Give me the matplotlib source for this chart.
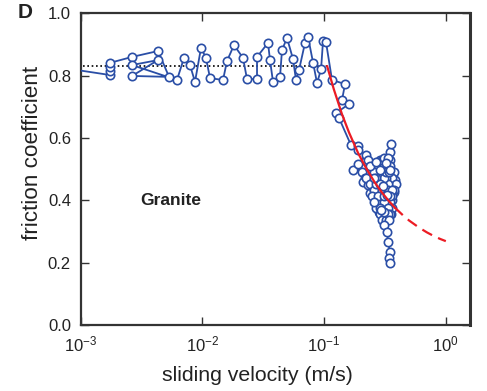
import matplotlib
matplotlib.use("Agg")
import matplotlib.pyplot as plt

plt.rcParams['font.family'] = ['Liberation Sans', 'DejaVu Sans']
plt.rcParams['mathtext.default'] = 'regular'

# measured sliding velocity (m/s) and friction coefficient, in recording order
velocity = [0.0005, 0.00174, 0.00174, 0.00174, 0.00174,
            0.00264, 0.00432, 0.00532, 0.00264, 0.00432, 0.00264,
            0.00618, 0.00706, 0.00791, 0.00869, 0.00974, 0.0107, 0.01155,
            0.01477, 0.01592, 0.01818, 0.02156, 0.02325, 0.0281, 0.0281,
            0.03459, 0.03593, 0.03802, 0.04342, 0.04508, 0.04955, 0.05553,
            0.05875, 0.0622, 0.06966, 0.0738, 0.08111, 0.0875, 0.0944,
            0.09795, 0.1036, 0.1161, 0.1486, 0.1403, 0.1603, 0.1253, 0.1326,
            0.1663, 0.1901, 0.1901, 0.2210, 0.1728, 0.2049, 0.1901, 0.2049,
            0.2166, 0.2095, 0.2295, 0.2384,
            0.2476, 0.2880, 0.2670, 0.3107, 0.2384, 0.2991, 0.3226, 0.2773,
            0.3350, 0.2570, 0.3226, 0.2880, 0.3480, 0.2670, 0.3350, 0.2991,
            0.3614, 0.2826, 0.3414, 0.3107, 0.3547, 0.3226, 0.2773, 0.3614,
            0.3825, 0.375,
            0.2295, 0.2773, 0.3480, 0.2476, 0.3107, 0.3753, 0.2210, 0.2880,
            0.3614, 0.2384, 0.3226, 0.3898, 0.2570, 0.3350, 0.3753, 0.2476,
            0.2991, 0.3614, 0.2773, 0.3226, 0.3480, 0.2670, 0.3107, 0.3614,
            0.2880, 0.3350, 0.2991, 0.3480, 0.3226, 0.2773, 0.3350, 0.2670,
            0.3107, 0.2570, 0.3226, 0.2384, 0.2991, 0.2670, 0.3480, 0.2880,
            0.3614, 0.3107, 0.2880, 0.3350, 0.3107, 0.3480, 0.2570,
            0.2880, 0.2570, 0.3414, 0.2670, 0.3107, 0.3480,
            0.3547, 0.3350, 0.3226, 0.3480, 0.3049, 0.3288, 0.2935, 0.3414,
            0.3107, 0.3288, 0.3350, 0.3480, 0.3414, 0.3480]
friction = [0.834, 0.802, 0.815, 0.828, 0.841,
            0.860, 0.879, 0.796, 0.799, 0.850, 0.834,
            0.786, 0.857, 0.834, 0.780, 0.889, 0.857, 0.792,
            0.786, 0.847, 0.898, 0.857, 0.789, 0.789, 0.860,
            0.905, 0.850, 0.780, 0.796, 0.882, 0.921, 0.853,
            0.786, 0.818, 0.905, 0.924, 0.841, 0.776, 0.821,
            0.911, 0.908, 0.786, 0.773, 0.722, 0.709, 0.680, 0.664,
            0.577, 0.574, 0.561, 0.545, 0.497, 0.504, 0.517, 0.491,
            0.471, 0.459, 0.449, 0.424,
            0.513, 0.529, 0.491, 0.504, 0.471, 0.478, 0.513, 0.449,
            0.471, 0.433, 0.440, 0.414, 0.433, 0.401, 0.407, 0.385,
            0.401, 0.363, 0.375, 0.343, 0.356, 0.385, 0.427, 0.459,
            0.465, 0.427,
            0.529, 0.510, 0.529, 0.491, 0.510, 0.491, 0.472, 0.491,
            0.472, 0.452, 0.472, 0.452, 0.433, 0.452, 0.433, 0.414,
            0.433, 0.414, 0.395, 0.414, 0.395, 0.375, 0.395, 0.375,
            0.356, 0.375, 0.337, 0.356, 0.337, 0.414, 0.433, 0.452,
            0.472, 0.491, 0.491, 0.510, 0.529, 0.472, 0.510, 0.452,
            0.433, 0.414, 0.375, 0.356, 0.362, 0.414, 0.395,
            0.497, 0.471, 0.491, 0.523, 0.536, 0.555,
            0.581, 0.536, 0.519, 0.497, 0.446, 0.417, 0.369, 0.337,
            0.321, 0.298, 0.266, 0.234, 0.215, 0.199]

# flash weakening model curve (solid over data range, dashed beyond)
model_v = [0.106, 0.12, 0.14, 0.16, 0.19, 0.22, 0.26, 0.30, 0.34, 0.38]
model_mu = [0.830, 0.757, 0.677, 0.618, 0.552, 0.505, 0.458, 0.424, 0.398, 0.377]
extrap_v = [0.38, 0.45, 0.5, 0.6, 0.7, 0.8, 0.9, 1.0]
extrap_mu = [0.377, 0.350, 0.335, 0.313, 0.297, 0.285, 0.276, 0.269]

# steady low-velocity friction level
static_v = [0.0005, 0.106]
static_mu = [0.83, 0.83]

blue = '#2a4ea6'
red = '#ec1c24'
dark = '#333333'

fig = plt.figure(figsize=(4.87, 3.91), dpi=100)
ax = fig.add_axes([0.1657, 0.1688, 0.7994, 0.7972])

ax.plot(static_v, static_mu, color='black', linestyle=(0, (1, 1.6)), linewidth=1.2, zorder=2)
ax.plot(velocity, friction, color=blue, linewidth=1.3, marker='o', markersize=6,
        markerfacecolor='white', markeredgecolor=blue, markeredgewidth=1.2, zorder=3)
ax.plot(model_v, model_mu, color=red, linewidth=1.6, zorder=4)
ax.plot(extrap_v, extrap_mu, color=red, linewidth=1.6, linestyle=(0, (5, 3)), zorder=4)

ax.set_xscale('log')
ax.set_xlim(1e-3, 1.58)
ax.set_ylim(0, 1.0)
ax.set_xticks([1e-3, 1e-2, 1e-1, 1e0])
ax.set_yticks([0.0, 0.2, 0.4, 0.6, 0.8, 1.0])
ax.set_yticklabels(['0.0', '0.2', '0.4', '0.6', '0.8', '1.0'])
ax.minorticks_off()
ax.tick_params(axis='both', which='major', direction='in', length=6, width=1,
               colors=dark, labelcolor='#222222', labelsize=12, top=True, right=True, pad=7)

for side in ['left', 'bottom', 'top']:
    ax.spines[side].set_linewidth(1.6)
    ax.spines[side].set_color(dark)
ax.spines['right'].set_linewidth(2.2)
ax.spines['right'].set_color(dark)

ax.set_xlabel('sliding velocity (m/s)', fontsize=15.3, color='#222222')
ax.set_ylabel('friction coefficient', fontsize=16.2, color='#222222')
ax.xaxis.set_label_coords(0.453, -0.13)
ax.yaxis.set_label_coords(-0.097, 0.552)

ax.text(0.0055, 0.40, 'Granite', fontsize=12.5, fontweight='bold', ha='center', va='center', color='#222222')
fig.text(0.051, 0.968, 'D', fontsize=15, fontweight='bold', ha='center', va='center', color='#222222')

fig.savefig('out.png', dpi=100)
